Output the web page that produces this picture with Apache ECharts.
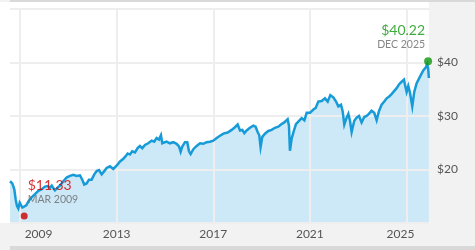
<!DOCTYPE html>
<html><head><meta charset="utf-8">
<script src="https://cdn.jsdelivr.net/npm/echarts@6/dist/echarts.min.js"></script>
<style>html,body{margin:0;padding:0;background:#f2f2f2;}#c{width:475px;height:250px;}</style>
</head><body><div id="c"></div>
<script>
const dates = ['2008-08-02','2008-09-06','2008-10-06','2008-10-27','2008-11-15','2008-12-06','2008-12-27','2009-01-15','2009-02-05','2009-03-05','2009-04-05','2009-05-05','2009-06-25','2009-08-15','2009-10-05','2009-11-25','2010-01-13','2010-02-23','2010-03-30','2010-04-25','2010-06-13','2010-07-23','2010-08-28','2010-10-17','2010-12-06','2011-01-26','2011-03-17','2011-05-06','2011-06-26','2011-07-31','2011-08-30','2011-10-05','2011-11-09','2011-12-19','2012-01-29','2012-03-05','2012-04-09','2012-05-19','2012-06-28','2012-08-03','2012-09-22','2012-11-11','2013-01-01','2013-02-21','2013-04-12','2013-05-17','2013-06-16','2013-07-21','2013-08-25','2013-10-05','2013-11-14','2013-12-19','2014-01-24','2014-03-05','2014-04-24','2014-06-14','2014-07-24','2014-08-28','2014-10-03','2014-11-02','2014-11-22','2014-12-22','2015-01-27','2015-03-18','2015-05-08','2015-06-27','2015-08-02','2015-08-27','2015-09-21','2015-10-31','2015-12-05','2015-12-31','2016-01-25','2016-03-06','2016-04-25','2016-06-15','2016-08-04','2016-09-23','2016-11-12','2017-01-02','2017-02-22','2017-04-13','2017-06-03','2017-08-07','2017-10-06','2017-11-25','2018-01-05','2018-02-10','2018-03-17','2018-04-16','2018-05-21','2018-07-10','2018-08-30','2018-10-04','2018-11-03','2018-11-28','2018-12-18','2019-01-13','2019-02-22','2019-04-13','2019-06-03','2019-07-23','2019-09-12','2019-10-22','2019-12-11','2020-01-31','2020-02-20','2020-03-06','2020-04-01','2020-05-06','2020-06-05','2020-07-21','2020-08-30','2020-10-10','2020-11-14','2021-01-04','2021-02-23','2021-03-30','2021-05-09','2021-06-29','2021-08-18','2021-09-28','2021-11-07','2021-12-22','2022-02-01','2022-03-08','2022-04-17','2022-05-12','2022-06-06','2022-07-11','2022-08-06','2022-08-31','2022-09-25','2022-11-04','2022-12-09','2023-01-14','2023-02-23','2023-04-04','2023-05-09','2023-06-13','2023-07-23','2023-09-02','2023-10-08','2023-11-12','2023-12-22','2024-02-01','2024-03-07','2024-04-11','2024-05-21','2024-07-01','2024-08-06','2024-09-10','2024-10-20','2024-11-25','2024-12-10','2025-01-04','2025-01-29','2025-02-23','2025-03-30','2025-04-29','2025-06-03','2025-07-23','2025-09-12','2025-10-22','2025-11-11','2025-11-26','2025-12-06'];
const prices = [17.8,17.4,16.3,14.4,13.2,12.7,13.8,13.5,12.9,12.6,13.3,14.0,14.8,15.4,16.0,16.3,16.8,16.9,16.6,17.0,16.1,16.6,17.0,17.8,18.5,18.8,19.0,18.8,18.9,18.1,17.2,17.4,18.1,18.1,19.1,19.7,19.9,19.1,19.7,20.3,20.6,20.1,20.7,21.5,22.0,22.5,23.0,22.8,23.4,23.2,24.0,24.4,24.0,24.6,24.9,25.4,25.2,25.9,25.6,26.4,24.9,24.9,25.2,24.9,25.1,24.8,24.3,23.3,24.3,25.1,25.1,23.4,22.9,23.8,24.4,24.9,24.8,25.1,25.2,25.4,25.9,26.3,26.7,26.9,27.4,27.9,28.4,27.3,27.4,26.8,27.3,27.8,28.2,28.0,27.0,26.4,24.2,26.1,26.7,27.2,27.4,27.8,28.0,28.4,28.8,29.4,28.2,23.5,25.8,27.3,28.5,29.1,29.6,29.2,30.6,30.6,31.2,31.5,32.7,32.8,33.3,32.7,33.9,33.5,32.7,31.8,32.1,30.9,28.4,29.7,30.4,29.1,27.0,29.1,29.7,30.0,28.8,29.8,30.0,30.4,31.0,30.6,29.2,30.9,32.1,32.7,33.3,33.6,34.1,34.7,35.2,35.9,36.4,36.8,35.8,34.5,35.6,34.4,31.8,34.5,36.1,37.3,38.5,39.1,39.7,38.8,37.1];
const lowPoint = {date:'2009-03-05', value:11.33, label:'MAR 2009'};
const highPoint = {date:'2025-11-24', value:40.22, label:'DEC 2025'};
const yearTicks = [2009, 2013, 2017, 2021, 2025];
const yTicks = [20, 30, 40];
const xRange = ['2008-08-02', '2025-12-08'];

const ts = d => new Date(d + 'T00:00:00Z').getTime();
const series = dates.map((d,i)=>[ts(d), prices[i]]);
const tickTs = yearTicks.map(y=>Date.UTC(y,0,1));
const FONT = 'Lato';

const chart = echarts.init(document.getElementById('c'), null, {renderer:'canvas'});
chart.setOption({
  backgroundColor:'#f2f2f2',
  animation:false,
  textStyle:{fontFamily:FONT},
  graphic:[
    {type:'rect', z:-10, shape:{x:0,y:2,width:429,height:221}, style:{fill:'#ffffff'}},
    {type:'rect', z:-10, shape:{x:10,y:0,width:465,height:2}, style:{fill:'#d9d9d9'}},
    {type:'rect', z:-10, shape:{x:10,y:246,width:465,height:4}, style:{fill:'#d9d9d9'}}
  ],
  grid:{left:10, right:46, top:9, bottom:27, show:false},
  xAxis:{
    type:'value', z:2,
    min:ts(xRange[0]), max:ts(xRange[1]),
    axisLine:{show:false},
    axisTick:{show:false, customValues:tickTs},
    splitLine:{show:true, lineStyle:{color:'#eeeeee', width:2}},
    axisLabel:{
      customValues:tickTs, margin:5, fontSize:12, color:'#555', fontFamily:FONT,
      formatter:(v)=>{
        const y = new Date(v).getUTCFullYear();
        if (y===yearTicks[0]) return '{l|'+y+'}';
        if (y===yearTicks[yearTicks.length-1]) return '{r|'+y+'}';
        return '{m|'+y+'}';
      },
      rich:{
        l:{fontSize:12, color:'#555', fontFamily:FONT, padding:[0,0,0,37]},
        r:{fontSize:12, color:'#555', fontFamily:FONT, padding:[0,12,0,0]},
        m:{fontSize:12, color:'#555', fontFamily:FONT}
      }
    }
  },
  yAxis:{
    type:'value', position:'right', z:2,
    min:10, max:50, interval:10,
    axisLine:{show:false}, axisTick:{show:false},
    splitLine:{show:true, lineStyle:{color:'#eeeeee', width:2}},
    axisLabel:{margin:8, fontSize:12, color:'#555', fontFamily:FONT,
      formatter:(v)=> yTicks.indexOf(v)>=0 ? '$'+v : ''}
  },
  series:[
    {type:'line', data:series, z:1, symbol:'none', lineStyle:{width:0}, areaStyle:{color:'#cde9f7', opacity:1}, silent:true},
    {type:'line', data:series, z:3, symbol:'none', lineStyle:{width:2.5, color:'#169bd8', join:'miter'}, silent:true},
    {type:'scatter', z:4, data:[[ts(lowPoint.date), lowPoint.value]], symbolSize:7, itemStyle:{color:'#cc0000'},
      label:{show:true, position:[7,-35], align:'left', verticalAlign:'top',
        formatter:()=>'{a|$'+lowPoint.value.toFixed(2)+'}\n{b|'+lowPoint.label+'}',
        rich:{a:{fontSize:14, color:'#cc0000', lineHeight:16, fontFamily:FONT},
              b:{fontSize:10.5, color:'#666', lineHeight:13, fontFamily:FONT}}}},
    {type:'scatter', z:4, data:[[ts(highPoint.date), highPoint.value]], symbolSize:8, itemStyle:{color:'#0f960f'},
      label:{show:true, position:[1,-35], align:'right', verticalAlign:'top',
        formatter:()=>'{a|$'+highPoint.value.toFixed(2)+'}\n{b|'+highPoint.label+'}',
        rich:{a:{fontSize:14, color:'#0f960f', lineHeight:16, fontFamily:FONT, align:'right'},
              b:{fontSize:10.5, color:'#666', lineHeight:13, fontFamily:FONT, align:'right'}}}}
  ]
});
</script></body></html>
